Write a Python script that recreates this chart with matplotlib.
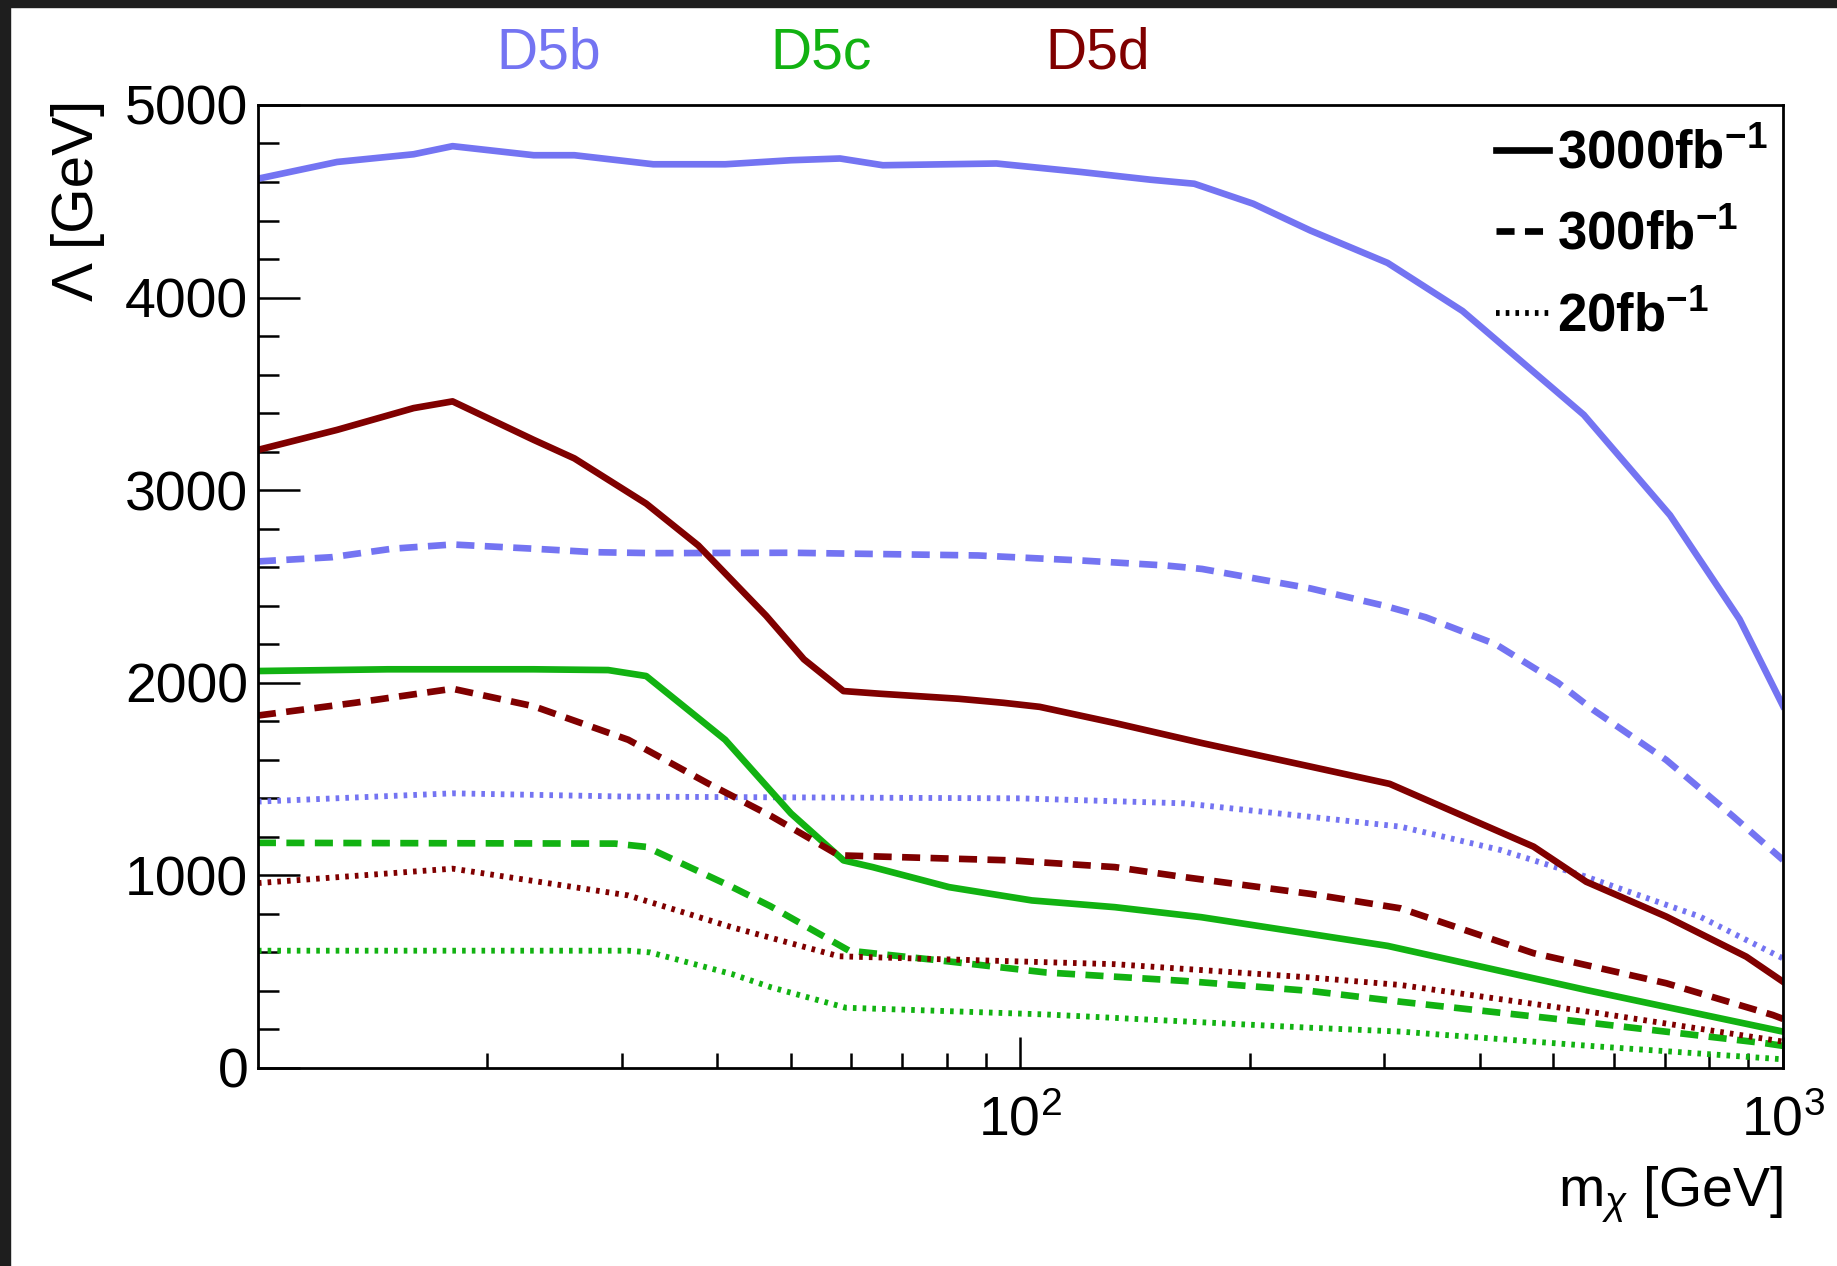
import matplotlib
matplotlib.use("Agg")
import matplotlib.pyplot as plt
from matplotlib.lines import Line2D
from matplotlib.patches import Rectangle
from matplotlib.ticker import MultipleLocator, LogLocator, NullFormatter, FixedLocator

plt.rcParams['font.family'] = ['Liberation Sans', 'DejaVu Sans']
plt.rcParams['mathtext.fontset'] = 'custom'
plt.rcParams['mathtext.rm'] = 'Liberation Sans'
plt.rcParams['mathtext.it'] = 'Liberation Sans:italic'
plt.rcParams['mathtext.bf'] = 'Liberation Sans:bold'
plt.rcParams['lines.scale_dashes'] = False

# D5b (blue)
d5b_3000_x = [10, 12.7, 16, 18, 23, 26, 33, 41, 50, 58, 66, 93, 120, 148, 169, 202, 240, 303, 380, 548, 711, 877, 1000]
d5b_3000_y = [4617, 4704, 4744, 4786, 4739, 4739, 4692, 4692, 4713, 4722, 4687, 4696, 4652, 4612, 4591, 4487, 4348, 4180, 3930, 3391, 2870, 2330, 1880]
d5b_300_x = [10, 12.5, 15, 18, 23, 27.6, 33, 50, 88, 120, 155, 173, 240, 300, 340, 420, 507, 564, 703, 861, 1000]
d5b_300_y = [2630, 2652, 2696, 2718, 2696, 2678, 2673, 2675, 2661, 2635, 2609, 2591, 2490, 2400, 2340, 2200, 2000, 1859, 1599, 1305, 1080]
d5b_20_x = [10, 18, 30.6, 50, 100, 164, 240, 315, 426, 552, 778, 1000]
d5b_20_y = [1383, 1426, 1409, 1405, 1400, 1374, 1304, 1253, 1132, 993, 786, 569]

# D5c (green)
d5c_3000_x = [10, 14.8, 23, 28.8, 32.3, 41, 50, 58.6, 64, 80.6, 103.5, 133, 172.6, 240, 303, 552, 1000]
d5c_3000_y = [2061, 2070, 2070, 2066, 2035, 1704, 1322, 1078, 1043, 939, 870, 835, 783, 696, 634, 405, 189]
d5c_300_x = [10, 29.4, 32.3, 41.9, 47, 59.6, 79, 108, 164, 240, 315, 520, 950, 1000]
d5c_300_y = [1169, 1165, 1148, 939, 840, 609, 557, 496, 452, 400, 344, 249, 128, 115]
d5c_20_x = [10, 30.6, 32.7, 41.9, 47, 59, 108, 240, 315, 575, 1000]
d5c_20_y = [609, 609, 600, 487, 420, 313, 278, 209, 189, 111, 45]

# D5d (dark red)
d5d_3000_x = [10, 12.7, 16, 18, 23, 26, 32.3, 37.8, 46.4, 52, 58.6, 65.5, 83, 95, 106, 133, 173, 240, 305, 471, 552, 703, 895, 1000]
d5d_3000_y = [3209, 3313, 3426, 3461, 3261, 3165, 2930, 2713, 2348, 2122, 1957, 1943, 1917, 1896, 1875, 1791, 1687, 1565, 1475, 1149, 967, 786, 578, 448]
d5d_300_x = [10, 13.4, 18, 23, 30.6, 38.9, 47, 57.8, 97, 133, 164, 240, 315, 471, 703, 970, 1000]
d5d_300_y = [1830, 1896, 1969, 1878, 1704, 1478, 1310, 1104, 1078, 1043, 991, 904, 829, 596, 440, 275, 255]
d5d_20_x = [10, 18, 30.6, 41.9, 57.8, 133, 240, 315, 575, 1000]
d5d_20_y = [960, 1035, 896, 730, 580, 539, 470, 431, 284, 137]

model_names = ["D5b", "D5c", "D5d"]
model_colors = ["#7474F2", "#12B212", "#800000"]
lumi_labels = [r"3000fb$^{\mathbf{-1}}$", r"300fb$^{\mathbf{-1}}$", r"20fb$^{\mathbf{-1}}$"]

solid = dict(linestyle='-', linewidth=4.8)
dashed = dict(linestyle=(0, (13, 7.5)), linewidth=4.8)
dotted = dict(linestyle=(0, (2.6, 4.4)), linewidth=4.2)
styles = [solid, dashed, dotted]

series = {
    "D5b": [(d5b_3000_x, d5b_3000_y), (d5b_300_x, d5b_300_y), (d5b_20_x, d5b_20_y)],
    "D5c": [(d5c_3000_x, d5c_3000_y), (d5c_300_x, d5c_300_y), (d5c_20_x, d5c_20_y)],
    "D5d": [(d5d_3000_x, d5d_3000_y), (d5d_300_x, d5d_300_y), (d5d_20_x, d5d_20_y)],
}

fig = plt.figure(figsize=(18.37, 12.66), dpi=100)
ax = fig.add_axes([0.1404, 0.1564, 0.8302, 0.7607])

for name, color in zip(model_names, model_colors):
    for (xs, ys), st in zip(series[name], styles):
        ax.plot(xs, ys, color=color, solid_joinstyle='round', dash_capstyle='butt', **st)

ax.set_xscale('log')
ax.set_xlim(10, 1000)
ax.set_ylim(0, 5000)

ax.xaxis.set_major_locator(FixedLocator([100, 1000]))
ax.xaxis.set_minor_locator(LogLocator(base=10, subs=[2, 3, 4, 5, 6, 7, 8, 9]))
ax.xaxis.set_minor_formatter(NullFormatter())
ax.yaxis.set_major_locator(MultipleLocator(1000))
ax.yaxis.set_minor_locator(MultipleLocator(200))

ax.tick_params(axis='both', which='both', direction='in', top=False, right=False,
               width=1.8, colors='black', labelsize=40)
ax.tick_params(axis='y', which='major', length=30, pad=7)
ax.tick_params(axis='y', which='minor', length=15)
ax.tick_params(axis='x', which='major', length=22, pad=20)
ax.tick_params(axis='x', which='minor', length=11)
for sp in ax.spines.values():
    sp.set_linewidth(2.0)

ax.set_xlabel(r"m$_{\chi}$ [GeV]", fontsize=40, ha='right')
ax.xaxis.set_label_coords(1.0, -0.1)
ax.set_ylabel("Λ [GeV]", fontsize=42, ha='right')
ax.yaxis.set_label_coords(-0.1, 1.005)

handles = [Line2D([], [], color='black', **st) for st in styles]
ax.legend(handles, lumi_labels, loc='upper left', bbox_to_anchor=(0.812, 0.975),
          frameon=False, prop=dict(weight='bold', size=38), handlelength=1.0,
          handletextpad=0.15, labelspacing=0.6, borderpad=0, borderaxespad=0)

label_x = [0.2989, 0.447, 0.5977]
for name, color, lx in zip(model_names, model_colors, label_x):
    fig.text(lx, 0.958, name, color=color, fontsize=41, ha='center', va='center')

# dark screenshot edges
fig.patches.append(Rectangle((0, 0), 10 / 1837, 1, transform=fig.transFigure,
                             color='#1e1e1e', zorder=-1))
fig.patches.append(Rectangle((0, 1 - 7 / 1266), 1, 7 / 1266, transform=fig.transFigure,
                             color='#1e1e1e', zorder=-1))

fig.savefig("out.png", dpi=100)
